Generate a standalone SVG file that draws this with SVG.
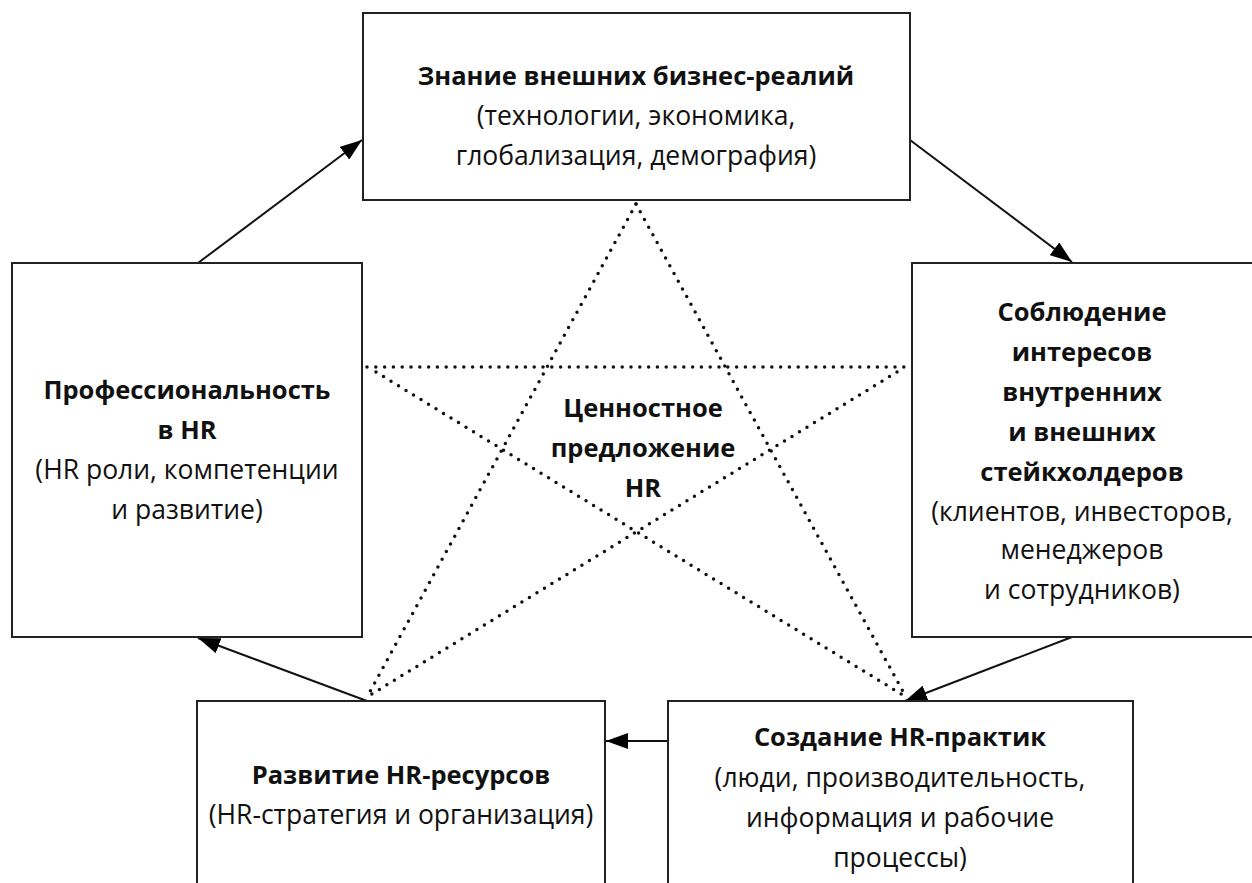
<svg xmlns="http://www.w3.org/2000/svg" width="1252" height="883" viewBox="0 0 1252 883">
<defs>
<marker id="ah" viewBox="0 0 22 16" refX="22" refY="8" markerWidth="22" markerHeight="16" markerUnits="userSpaceOnUse" orient="auto">
<path d="M0,0 L22,8 L0,16 Z" fill="#000"/>
</marker>
</defs>
<style>
.box{fill:#fff;stroke:#222;stroke-width:2}
.t{font-family:"Open Sans","DejaVu Sans",sans-serif;font-size:26.5px;fill:#111;text-anchor:middle}
.b{font-weight:bold;font-size:25.5px}
.arr{stroke:#111;stroke-width:2;fill:none;marker-end:url(#ah)}
.dot{stroke:#111;stroke-width:3.5;stroke-linecap:round;stroke-dasharray:0 8.8;fill:none}
</style>
<rect width="1252" height="883" fill="#fff"/>
<g id="star">
<line class="dot" x1="636" y1="204" x2="367" y2="697"/>
<line class="dot" x1="636" y1="204" x2="906" y2="697"/>
<line class="dot" x1="367" y1="367" x2="906" y2="367"/>
<line class="dot" x1="376" y1="372" x2="906" y2="697"/>
<line class="dot" x1="897" y1="372" x2="367" y2="697"/>
</g>
<g id="connectors">
<line class="arr" x1="198" y1="263" x2="362" y2="140"/>
<line class="arr" x1="910" y1="140" x2="1072" y2="262"/>
<line class="arr" x1="1072" y1="637" x2="905" y2="701"/>
<line class="arr" x1="668" y1="741" x2="606" y2="741"/>
<line class="arr" x1="367" y1="701" x2="198" y2="638"/>
</g>
<g id="top">
<rect class="box" x="363" y="13" width="547" height="187"/>
<text class="t b" x="636" y="85">Знание внешних бизнес-реалий</text>
<text class="t" x="636" y="125">(технологии, экономика,</text>
<text class="t" x="636" y="165">глобализация, демография)</text>
</g>
<g id="left">
<rect class="box" x="12" y="263" width="350" height="374"/>
<text class="t b" x="187" y="399">Профессиональность</text>
<text class="t b" x="187" y="439">в HR</text>
<text class="t" x="187" y="479">(HR роли, компетенции</text>
<text class="t" x="187" y="519">и развитие)</text>
</g>
<g id="right">
<rect class="box" x="912" y="263" width="360" height="374"/>
<text class="t b" x="1082" y="321">Соблюдение</text>
<text class="t b" x="1082" y="361">интересов</text>
<text class="t b" x="1082" y="401">внутренних</text>
<text class="t b" x="1082" y="441">и внешних</text>
<text class="t b" x="1082" y="481">стейкхолдеров</text>
<text class="t" x="1082" y="521">(клиентов, инвесторов,</text>
<text class="t" x="1082" y="559">менеджеров</text>
<text class="t" x="1082" y="599">и сотрудников)</text>
</g>
<g id="center">
<text class="t b" x="643" y="417">Ценностное</text>
<text class="t b" x="643" y="457">предложение</text>
<text class="t b" x="643" y="497">HR</text>
</g>
<g id="bottomleft">
<rect class="box" x="197" y="701" width="408" height="200"/>
<text class="t b" x="401" y="784">Развитие HR-ресурсов</text>
<text class="t" x="401" y="824">(HR-стратегия и организация)</text>
</g>
<g id="bottomright">
<rect class="box" x="668" y="701" width="465" height="200"/>
<text class="t b" x="900" y="746">Создание HR-практик</text>
<text class="t" x="900" y="787">(люди, производительность,</text>
<text class="t" x="900" y="827">информация и рабочие</text>
<text class="t" x="900" y="867">процессы)</text>
</g>
</svg>
